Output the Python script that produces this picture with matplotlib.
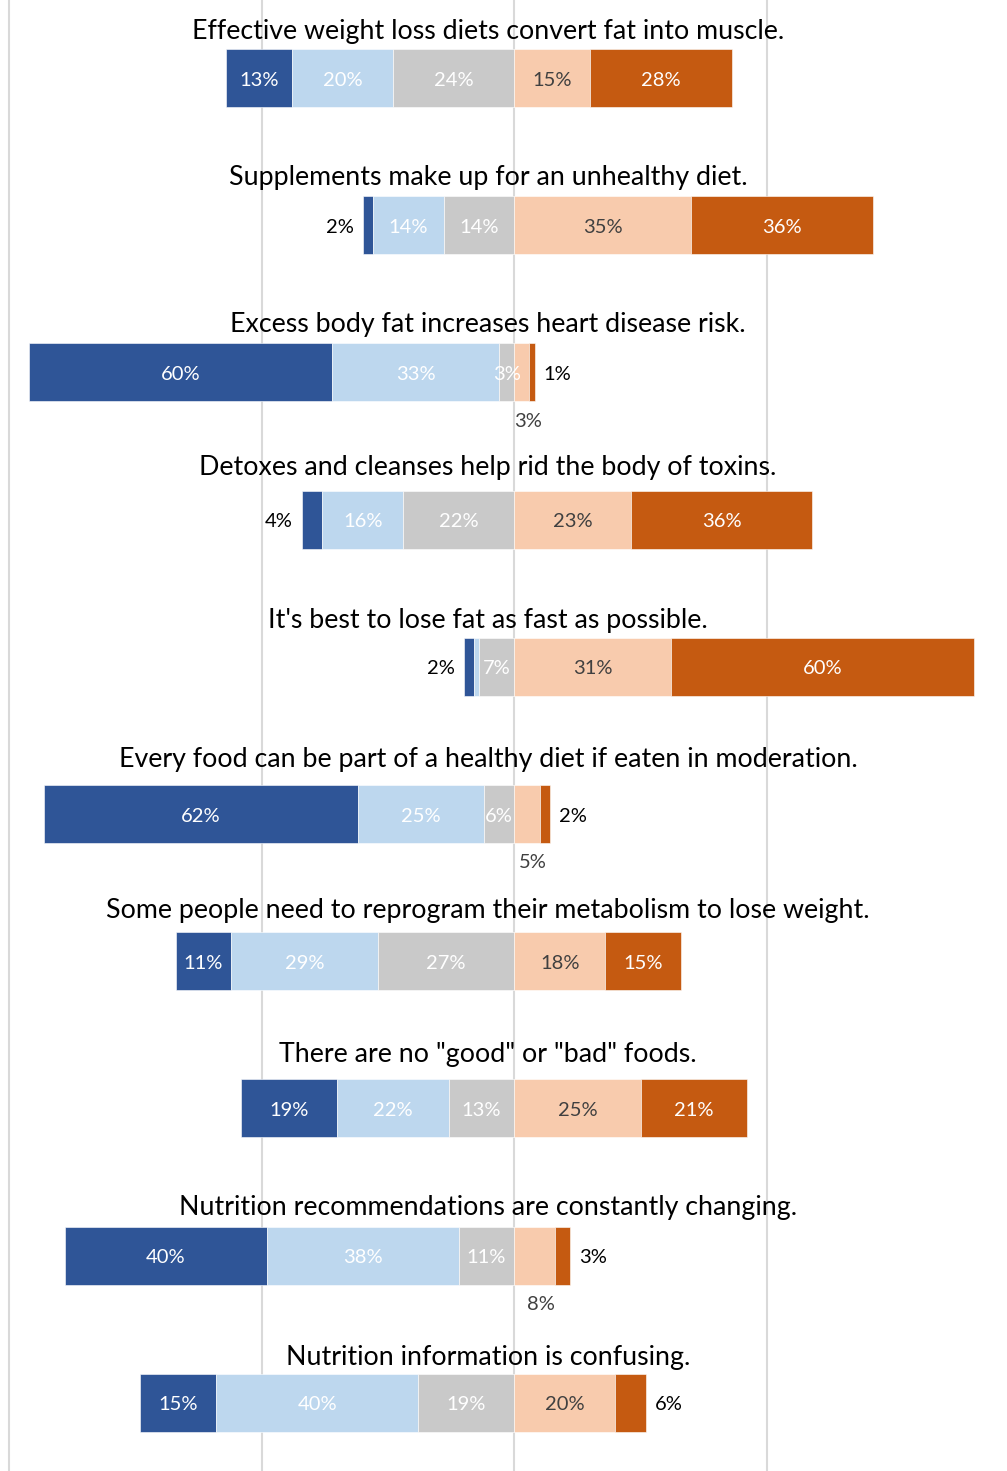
import matplotlib
matplotlib.use("Agg")
import matplotlib.pyplot as plt

# Survey statements and response shares (%)
statements = [
    "Effective weight loss diets convert fat into muscle.",
    "Supplements make up for an unhealthy diet.",
    "Excess body fat increases heart disease risk.",
    "Detoxes and cleanses help rid the body of toxins.",
    "It's best to lose fat as fast as possible.",
    "Every food can be part of a healthy diet if eaten in moderation.",
    "Some people need to reprogram their metabolism to lose weight.",
    "There are no \"good\" or \"bad\" foods.",
    "Nutrition recommendations are constantly changing.",
    "Nutrition information is confusing.",
]
strongly_agree = [13, 2, 60, 4, 2, 62, 11, 19, 40, 15]
agree = [20, 14, 33, 16, 1, 25, 29, 22, 38, 40]
neutral = [24, 14, 3, 22, 7, 6, 27, 13, 11, 19]
disagree = [15, 35, 3, 23, 31, 5, 18, 25, 8, 20]
strongly_disagree = [28, 36, 1, 36, 60, 2, 15, 21, 3, 6]

colors = ["#2F5597", "#BDD7EE", "#C9C9C9", "#F8CBAD", "#C55A11"]
text_colors = ["white", "white", "white", "#404040", "white"]

# gap (px) between each statement's baseline and its bar centre
title_gap_px = [39, 40, 40, 45, 39, 47, 43, 46, 41, 38]

plt.rcParams["font.family"] = ["Lato", "DejaVu Sans"]

W, H = 1007, 1471
fig = plt.figure(figsize=(W / 100, H / 100), dpi=100)
ax = fig.add_axes([0, 0, 1, 1])

px_per_pct = 5.053
x_left = -100 - 9 / px_per_pct
x_right = x_left + W / px_per_pct
row_px = 147.2
y_top = -78 / row_px
y_bottom = y_top + H / row_px
ax.set_xlim(x_left, x_right)
ax.set_ylim(y_bottom, y_top)

ax.set_xticks([-100, -50, 0, 50])
ax.set_yticks([])
ax.tick_params(axis="x", length=0, labelbottom=False)
ax.grid(axis="x", color="#D9D9D9", linewidth=1.5)
ax.set_axisbelow(True)
for s in ax.spines.values():
    s.set_visible(False)

bar_h = 58 / row_px
label_fs = 14.5
title_fs = 19.3
dy = 2 / row_px  # nudge digits to optical centre

for i, name in enumerate(statements):
    vals = [strongly_agree[i], agree[i], neutral[i], disagree[i], strongly_disagree[i]]
    # agree side plus neutral sit left of zero, disagree side to the right
    lefts = [-(vals[0] + vals[1] + vals[2]), -(vals[1] + vals[2]), -vals[2], 0, vals[3]]
    for k in range(5):
        ax.barh(i, vals[k], left=lefts[k], height=bar_h, color=colors[k],
                edgecolor="white", linewidth=0.4)
        v = vals[k]
        mid = lefts[k] + v / 2
        lab = f"{v}%"
        if k == 0 and v < 10:
            ax.text(lefts[k] - 1.8, i + dy, lab, ha="right", va="center",
                    fontsize=label_fs, color="black")
        elif k == 4 and v < 10:
            ax.text(lefts[k] + v + 1.8, i + dy, lab, ha="left", va="center",
                    fontsize=label_fs, color="black")
        elif k == 3 and v < 10:
            ax.text(mid + 1.2, i + bar_h / 2 + 20 / row_px, lab, ha="center", va="center",
                    fontsize=label_fs, color="#404040")
        elif k == 1 and v < 2:
            continue
        else:
            ax.text(mid, i + dy, lab, ha="center", va="center",
                    fontsize=label_fs, color=text_colors[k])
    ax.text(-5.2, i - title_gap_px[i] / row_px, name, ha="center", va="baseline",
            fontsize=title_fs, color="black")

fig.savefig("out.png", dpi=100)
